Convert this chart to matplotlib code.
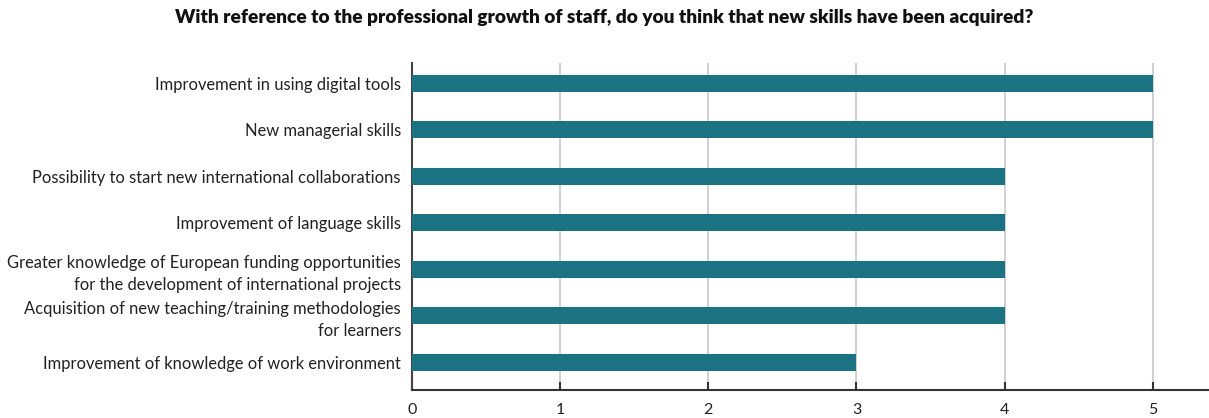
import matplotlib
matplotlib.use("Agg")
import matplotlib.pyplot as plt

categories = [
    "Improvement in using digital tools",
    "New managerial skills",
    "Possibility to start new international collaborations",
    "Improvement of language skills",
    "Greater knowledge of European funding opportunities\nfor the development of international projects",
    "Acquisition of new teaching/training methodologies\nfor learners",
    "Improvement of knowledge of work environment",
]
values = [5, 5, 4, 4, 4, 4, 3]
x_ticks = [0, 1, 2, 3, 4, 5]

bar_color = "#1b7282"
plt.rcParams["font.family"] = ["Lato", "DejaVu Sans"]

W, H = 1209, 418
fig = plt.figure(figsize=(W / 100, H / 100), dpi=100)
left, right, top, bottom = 412, 1209, 63, 390
ax = fig.add_axes([left / W, 1 - bottom / H, (right - left) / W, (bottom - top) / H])

y = list(range(len(categories)))
ax.barh(y, values, height=0.37, color=bar_color, zorder=3)

ax.set_xlim(0, 5.38)
ax.set_ylim(6.6, -0.44)
ax.set_yticks(y)
ax.set_yticklabels(categories, fontsize=11.9, color="#222222", linespacing=1.45)
ax.set_xticks(x_ticks)
ax.set_xticklabels([str(t) for t in x_ticks], fontsize=11.5, color="#222222")

ax.grid(axis="x", color="#c8c8c8", linewidth=1.2, zorder=0)
ax.tick_params(axis="y", length=0, pad=8)
ax.tick_params(axis="x", direction="in", length=6, width=1.5, color="#333333", pad=9)

for side in ("top", "right"):
    ax.spines[side].set_visible(False)
ax.spines["left"].set_color("#444444")
ax.spines["left"].set_linewidth(1.5)
ax.spines["bottom"].set_color("#333333")
ax.spines["bottom"].set_linewidth(1.5)

fig.text(0.5, 1 - 17 / H, "With reference to the professional growth of staff, do you think that new skills have been acquired?",
         ha="center", va="center", fontsize=13.8, fontweight="heavy", color="#111111")

fig.savefig("out.png", dpi=100)
